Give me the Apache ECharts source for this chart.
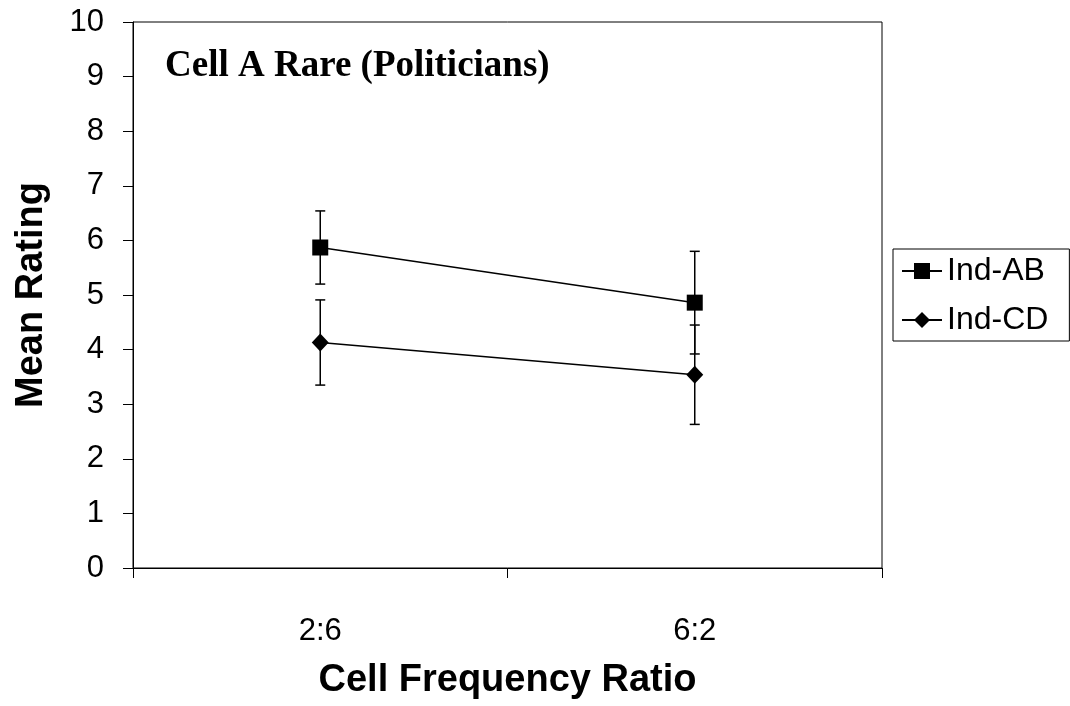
<!DOCTYPE html>
<html>
<head>
<meta charset="utf-8">
<script src="https://cdn.jsdelivr.net/npm/echarts@6/dist/echarts.min.js"></script>
<style>
  html, body { margin: 0; padding: 0; background: #fff; }
  #chart { width: 1070px; height: 706px; }
</style>
</head>
<body>
<div id="chart"></div>
<script>
// 数据
const categories = ['2:6', '6:2']
const abMean = [5.87, 4.86]
const abErr = [0.67, 0.94]
const cdMean = [4.13, 3.54]
const cdErr = [0.78, 0.91]
const yTicks = [0, 1, 2, 3, 4, 5, 6, 7, 8, 9, 10]

// 误差线数据 [类别, 下限, 上限]
const errData = (mean, err) => mean.map((m, i) => [i, m - err[i], m + err[i]])

const renderErr = (params, api) => {
  const x = api.value(0)
  const lo = api.coord([x, api.value(1)])
  const hi = api.coord([x, api.value(2)])
  const w = 5
  const style = { stroke: '#000', lineWidth: 1.5 }
  return {
    type: 'group',
    children: [
      { type: 'line', shape: { x1: lo[0], y1: lo[1], x2: hi[0], y2: hi[1] }, style },
      { type: 'line', shape: { x1: hi[0] - w, y1: hi[1], x2: hi[0] + w, y2: hi[1] }, style },
      { type: 'line', shape: { x1: lo[0] - w, y1: lo[1], x2: lo[0] + w, y2: lo[1] }, style },
    ],
  }
}

let chart = echarts.init(document.getElementById('chart'))
let option = {
  animation: false,
  backgroundColor: '#fff',
  textStyle: { fontFamily: 'Liberation Sans, Arial, sans-serif', color: '#000' },
  title: {
    text: 'Cell A Rare (Politicians)',
    left: 165,
    top: 48,
    padding: 0,
    textStyle: {
      fontFamily: 'Liberation Serif, Times New Roman, serif',
      fontWeight: 'bold',
      fontSize: 37,
      color: '#000',
    },
  },
  legend: {
    left: 893,
    top: 249,
    orient: 'vertical',
    padding: [6, 21, 5, 8],
    itemGap: 17,
    itemWidth: 40,
    itemHeight: 20,
    borderColor: '#000',
    borderWidth: 1,
    data: ['Ind-AB', 'Ind-CD'],
    textStyle: { fontSize: 32, color: '#000', fontFamily: 'Liberation Sans, Arial, sans-serif' },
  },
  grid: {
    left: 133,
    right: 188,
    top: 22,
    bottom: 138,
    show: true,
    borderColor: '#000',
    borderWidth: 1,
    backgroundColor: '#fff',
  },
  xAxis: {
    type: 'category',
    data: categories,
    boundaryGap: true,
    name: 'Cell Frequency Ratio',
    nameLocation: 'middle',
    nameGap: 94,
    nameTextStyle: { fontSize: 38, fontWeight: 'bold', color: '#000' },
    axisLine: { lineStyle: { color: '#000', width: 1 } },
    axisTick: { show: true, length: 10, lineStyle: { color: '#000' } },
    axisLabel: { fontSize: 31, color: '#000', margin: 48 },
    splitLine: { show: false },
  },
  yAxis: {
    type: 'value',
    min: yTicks[0],
    max: yTicks[yTicks.length - 1],
    interval: 1,
    name: 'Mean Rating',
    nameLocation: 'middle',
    nameGap: 82,
    nameTextStyle: { fontSize: 38, fontWeight: 'bold', color: '#000' },
    axisLine: { show: true, lineStyle: { color: '#000', width: 1 } },
    axisTick: { show: true, length: 10, lineStyle: { color: '#000' } },
    axisLabel: { fontSize: 31, color: '#000', margin: 29 },
    splitLine: { show: false },
  },
  series: [
    {
      type: 'custom',
      name: 'errAB',
      renderItem: renderErr,
      encode: { x: 0, y: [1, 2] },
      data: errData(abMean, abErr),
      z: 1,
    },
    {
      type: 'custom',
      name: 'errCD',
      renderItem: renderErr,
      encode: { x: 0, y: [1, 2] },
      data: errData(cdMean, cdErr),
      z: 1,
    },
    {
      name: 'Ind-AB',
      type: 'line',
      data: abMean,
      symbol: 'rect',
      symbolSize: 16,
      itemStyle: { color: '#000' },
      lineStyle: { color: '#000', width: 1.5 },
      z: 3,
    },
    {
      name: 'Ind-CD',
      type: 'line',
      data: cdMean,
      symbol: 'diamond',
      symbolSize: [17, 18],
      itemStyle: { color: '#000' },
      lineStyle: { color: '#000', width: 1.5 },
      z: 3,
    },
  ],
}
chart.setOption(option)
</script>
</body>
</html>
